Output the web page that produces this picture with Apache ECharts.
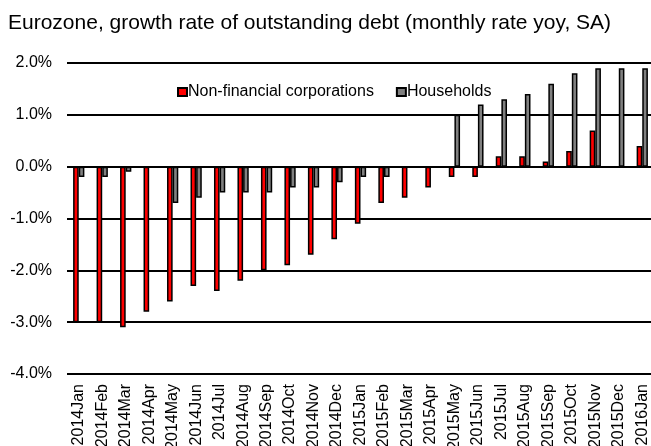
<!DOCTYPE html>
<html>
<head>
<meta charset="utf-8">
<script src="https://cdn.jsdelivr.net/npm/echarts@6/dist/echarts.min.js"></script>
<style>
  html, body { margin: 0; padding: 0; background: #fff; }
  #chart { width: 651px; height: 446px; }
</style>
</head>
<body>
<div id="chart"></div>
<script>
// Monthly observations, Jan 2014 – Jan 2016
const months = [
  '2014Jan', '2014Feb', '2014Mar', '2014Apr', '2014May', '2014Jun', '2014Jul',
  '2014Aug', '2014Sep', '2014Oct', '2014Nov', '2014Dec', '2015Jan', '2015Feb',
  '2015Mar', '2015Apr', '2015May', '2015Jun', '2015Jul', '2015Aug', '2015Sep',
  '2015Oct', '2015Nov', '2015Dec', '2016Jan'
];

// Growth of outstanding debt, % yoy
const nonFinancialCorps = [
  -3.0, -3.0, -3.1, -2.8, -2.6, -2.3, -2.4, -2.2, -2.0, -1.9, -1.7, -1.4, -1.1,
  -0.7, -0.6, -0.4, -0.2, -0.2, 0.2, 0.2, 0.1, 0.3, 0.7, 0.0, 0.4
];
const households = [
  -0.2, -0.2, -0.1, 0.0, -0.7, -0.6, -0.5, -0.5, -0.5, -0.4, -0.4, -0.3, -0.2,
  -0.2, 0.0, 0.0, 1.0, 1.2, 1.3, 1.4, 1.6, 1.8, 1.9, 1.9, 1.9
];

const FONT = '"Liberation Sans", Arial, sans-serif';

const chart = echarts.init(document.getElementById('chart'), null, { renderer: 'canvas' });

chart.setOption({
  animation: false,
  backgroundColor: '#ffffff',
  title: {
    text: 'Eurozone, growth rate of outstanding debt (monthly rate yoy, SA)',
    left: 3,
    top: 8,
    textStyle: { fontFamily: FONT, fontSize: 21, fontWeight: 'normal', color: '#000' }
  },
  legend: {
    left: 172,
    top: 79,
    itemWidth: 9,
    itemHeight: 8,
    itemGap: 22,
    icon: 'rect',
    textStyle: { fontFamily: FONT, fontSize: 16, color: '#000', padding: [0, 0, 0, -4] },
    data: ['Non-financial corporations', 'Households']
  },
  grid: {
    left: 67, right: -3, top: 63, bottom: 72,
    containLabel: false,
    outerBoundsMode: 'none'
  },
  xAxis: {
    type: 'category',
    data: months,
    axisLine: { show: false },
    axisTick: { show: false },
    axisLabel: {
      rotate: 90,
      interval: 0,
      margin: 10,
      fontFamily: FONT,
      fontSize: 16,
      color: '#000'
    }
  },
  yAxis: {
    type: 'value',
    min: -4,
    max: 2,
    interval: 1,
    axisLine: { show: false },
    axisTick: { show: false },
    splitLine: { lineStyle: { color: '#000', width: 2 } },
    axisLabel: {
      margin: 15,
      fontFamily: FONT,
      fontSize: 16,
      color: '#000',
      formatter: v => v.toFixed(1) + '%'
    }
  },
  series: [
    {
      name: 'Non-financial corporations',
      type: 'bar',
      data: nonFinancialCorps,
      barWidth: '24%',
      barGap: '0%',
      itemStyle: { color: '#ff0000', borderColor: '#000', borderWidth: 1.5 }
    },
    {
      name: 'Households',
      type: 'bar',
      data: households,
      barWidth: '24%',
      barGap: '0%',
      itemStyle: { color: '#808080', borderColor: '#000', borderWidth: 1.5 }
    }
  ]
});
</script>
</body>
</html>
